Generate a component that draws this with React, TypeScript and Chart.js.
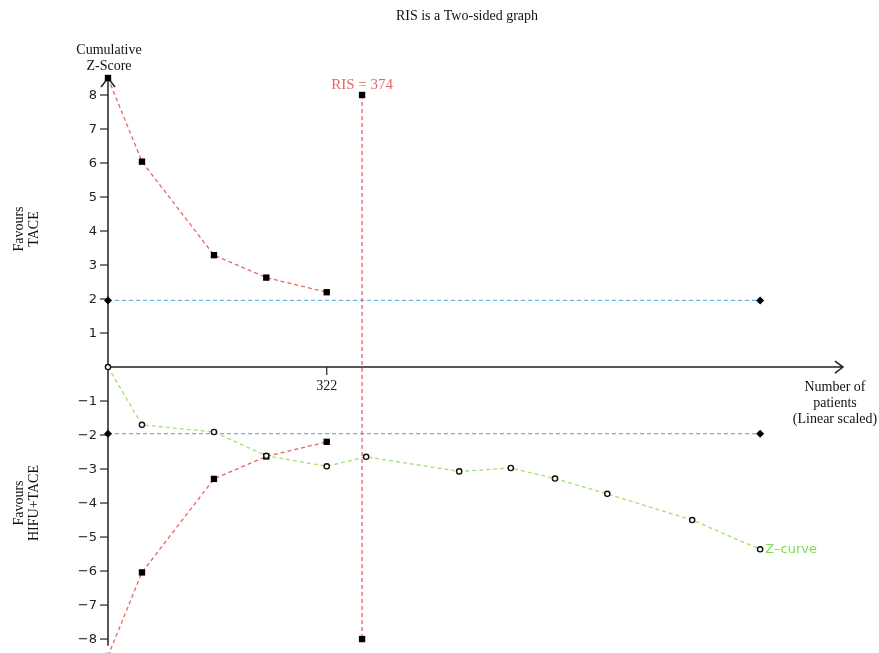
import React, { useEffect, useRef } from "react";
import { Chart, registerables } from "chart.js";

Chart.register(...registerables);

// Cumulative number of patients at each trial
const patients = [0, 50, 156, 233, 322, 380, 517, 593, 658, 735, 860, 960];
// Cumulative Z-score after each trial
const zCurveValues = [0, -1.7, -1.91, -2.61, -2.92, -2.64, -3.07, -2.97, -3.28, -3.73, -4.5, -5.36];

// Trial sequential monitoring boundaries
const boundaryPatients = [0, 50, 156, 233, 322];
const upperBoundary = [8.5, 6.04, 3.29, 2.63, 2.2];
const lowerBoundary = [-8.5, -6.04, -3.29, -2.63, -2.2];

// Required information size
const risPatients = 374;
const risMarkers = [8, -8];

// Conventional significance level (two-sided 5%)
const conventionalPatients = [0, 960];
const conventionalZ = 1.96;

// Axis ticks
const yTicks = [-8, -7, -6, -5, -4, -3, -2, -1, 1, 2, 3, 4, 5, 6, 7, 8];
const xTicks = [322];

const RED = "rgb(228, 104, 104)";
const BLUE = "rgb(98, 186, 236)";
const GREEN = "rgb(160, 226, 110)";
const LABEL_GREEN = "rgb(128, 222, 84)";
const SERIF = '"Liberation Serif", "Times New Roman", serif';
const SANS = '"DejaVu Sans", Verdana, sans-serif';

const axesPlugin = {
  id: "tsaAxes",
  beforeDatasetsDraw(chart: any) {
    const { ctx, scales } = chart;
    const xs = scales.x;
    const ys = scales.y;
    const x0 = xs.getPixelForValue(0);
    const y0 = ys.getPixelForValue(0);
    const top = ys.getPixelForValue(8.5);
    const bottom = ys.getPixelForValue(-8.2);
    const right = xs.right;

    ctx.save();
    ctx.strokeStyle = "#222";
    ctx.lineWidth = 1.5;
    ctx.setLineDash([]);

    // vertical axis with arrow head
    ctx.beginPath();
    ctx.moveTo(x0, bottom);
    ctx.lineTo(x0, top);
    ctx.moveTo(x0 - 7, top + 9);
    ctx.lineTo(x0, top);
    ctx.lineTo(x0 + 7, top + 9);
    ctx.stroke();

    // horizontal axis with arrow head
    ctx.beginPath();
    ctx.moveTo(x0, y0);
    ctx.lineTo(right, y0);
    ctx.moveTo(right - 8, y0 - 6);
    ctx.lineTo(right, y0);
    ctx.lineTo(right - 8, y0 + 6);
    ctx.stroke();

    // y ticks and labels
    ctx.fillStyle = "#222";
    ctx.font = `13px ${SANS}`;
    ctx.textAlign = "right";
    ctx.textBaseline = "middle";
    ctx.lineWidth = 1.2;
    yTicks.forEach((v) => {
      const py = ys.getPixelForValue(v);
      ctx.beginPath();
      ctx.moveTo(x0 - 8, py);
      ctx.lineTo(x0, py);
      ctx.stroke();
      const label = v < 0 ? "\u2212" + Math.abs(v) : String(v);
      ctx.fillText(label, x0 - 11, py + 0.5);
    });

    // x ticks and labels
    ctx.font = `14px ${SERIF}`;
    ctx.textAlign = "center";
    ctx.textBaseline = "top";
    xTicks.forEach((v) => {
      const px = xs.getPixelForValue(v);
      ctx.beginPath();
      ctx.moveTo(px, y0);
      ctx.lineTo(px, y0 + 8);
      ctx.stroke();
      ctx.fillText(String(v), px, y0 + 12);
    });
    ctx.restore();
  },
  afterDraw(chart: any) {
    const { ctx, scales } = chart;
    const xs = scales.x;
    const ys = scales.y;
    ctx.save();
    ctx.fillStyle = "#111";
    ctx.font = `14px ${SERIF}`;
    ctx.textAlign = "center";
    ctx.textBaseline = "middle";

    ctx.fillText("RIS is a Two-sided graph", 467, 16);
    ctx.fillText("Cumulative", 109, 50);
    ctx.fillText("Z-Score", 109, 66);

    ctx.fillText("Number of", 835, 387);
    ctx.fillText("patients", 835, 403);
    ctx.fillText("(Linear scaled)", 835, 419);

    const rotated = (lines: string[], cx: number, cy: number) => {
      ctx.save();
      ctx.translate(cx, cy);
      ctx.rotate(-Math.PI / 2);
      lines.forEach((t, i) => ctx.fillText(t, 0, (i - (lines.length - 1) / 2) * 15));
      ctx.restore();
    };
    rotated(["Favours", "TACE"], 27, 229);
    rotated(["Favours", "HIFU+TACE"], 27, 503);

    // RIS label
    ctx.fillStyle = RED;
    ctx.font = `15px ${SERIF}`;
    ctx.fillText(`RIS = ${risPatients}`, xs.getPixelForValue(risPatients), 85);

    // Z-curve label
    const last = patients.length - 1;
    ctx.fillStyle = LABEL_GREEN;
    ctx.font = `13px ${SANS}`;
    ctx.textAlign = "left";
    ctx.fillText(
      "Z\u2013curve",
      xs.getPixelForValue(patients[last]) + 5,
      ys.getPixelForValue(zCurveValues[last])
    );
    ctx.restore();
  },
};

const markerSquare = {
  pointStyle: "rect",
  pointRadius: 4.5,
  pointBackgroundColor: "#000",
  pointBorderColor: "#000",
  pointBorderWidth: 0,
};

const markerDiamond = {
  pointStyle: "rectRot",
  pointRadius: 4,
  pointBackgroundColor: "#000",
  pointBorderColor: "#000",
  pointBorderWidth: 0,
};

const dashed = {
  showLine: true,
  borderWidth: 1.3,
  borderDash: [4, 3],
  clip: false,
};

export default function App() {
  const canvasRef = useRef<HTMLCanvasElement>(null);

  useEffect(() => {
    document.body.style.margin = "0";
    const canvas = canvasRef.current;
    if (!canvas) return;

    const pts = (xs: number[], ys: number[]) => xs.map((x, i) => ({ x, y: ys[i] }));

    const chart = new Chart(canvas, {
      type: "scatter",
      data: {
        datasets: [
          {
            label: "Z-curve",
            data: pts(patients, zCurveValues),
            ...dashed,
            borderColor: GREEN,
            pointStyle: "circle",
            pointRadius: 2.6,
            pointBackgroundColor: "#fff",
            pointBorderColor: "#111",
            pointBorderWidth: 1.4,
          },
          {
            label: "Upper boundary",
            data: pts(boundaryPatients, upperBoundary),
            ...dashed,
            borderColor: RED,
            ...markerSquare,
          },
          {
            label: "Lower boundary",
            data: pts(boundaryPatients, lowerBoundary),
            ...dashed,
            borderColor: RED,
            ...markerSquare,
          },
          {
            label: "RIS",
            data: risMarkers.map((y) => ({ x: risPatients, y })),
            ...dashed,
            borderColor: RED,
            ...markerSquare,
          },
          {
            label: "Conventional upper",
            data: conventionalPatients.map((x) => ({ x, y: conventionalZ })),
            ...dashed,
            borderColor: BLUE,
            ...markerDiamond,
          },
          {
            label: "Conventional lower",
            data: conventionalPatients.map((x) => ({ x, y: -conventionalZ })),
            ...dashed,
            borderColor: BLUE,
            ...markerDiamond,
          },
        ] as any,
      },
      options: {
        responsive: false,
        animation: false,
        layout: { autoPadding: false, padding: { left: 108, right: 36, top: 78, bottom: 0 } },
        plugins: {
          legend: { display: false },
          title: { display: false },
          tooltip: { enabled: false },
        },
        scales: {
          x: { type: "linear", min: 0, max: 1082, display: false },
          y: { type: "linear", min: -8.41, max: 8.5, display: false },
        },
      },
      plugins: [axesPlugin],
    });

    return () => chart.destroy();
  }, []);

  return (
    <canvas
      ref={canvasRef}
      width={879}
      height={653}
      style={{ display: "block", width: 879, height: 653 }}
    />
  );
}
